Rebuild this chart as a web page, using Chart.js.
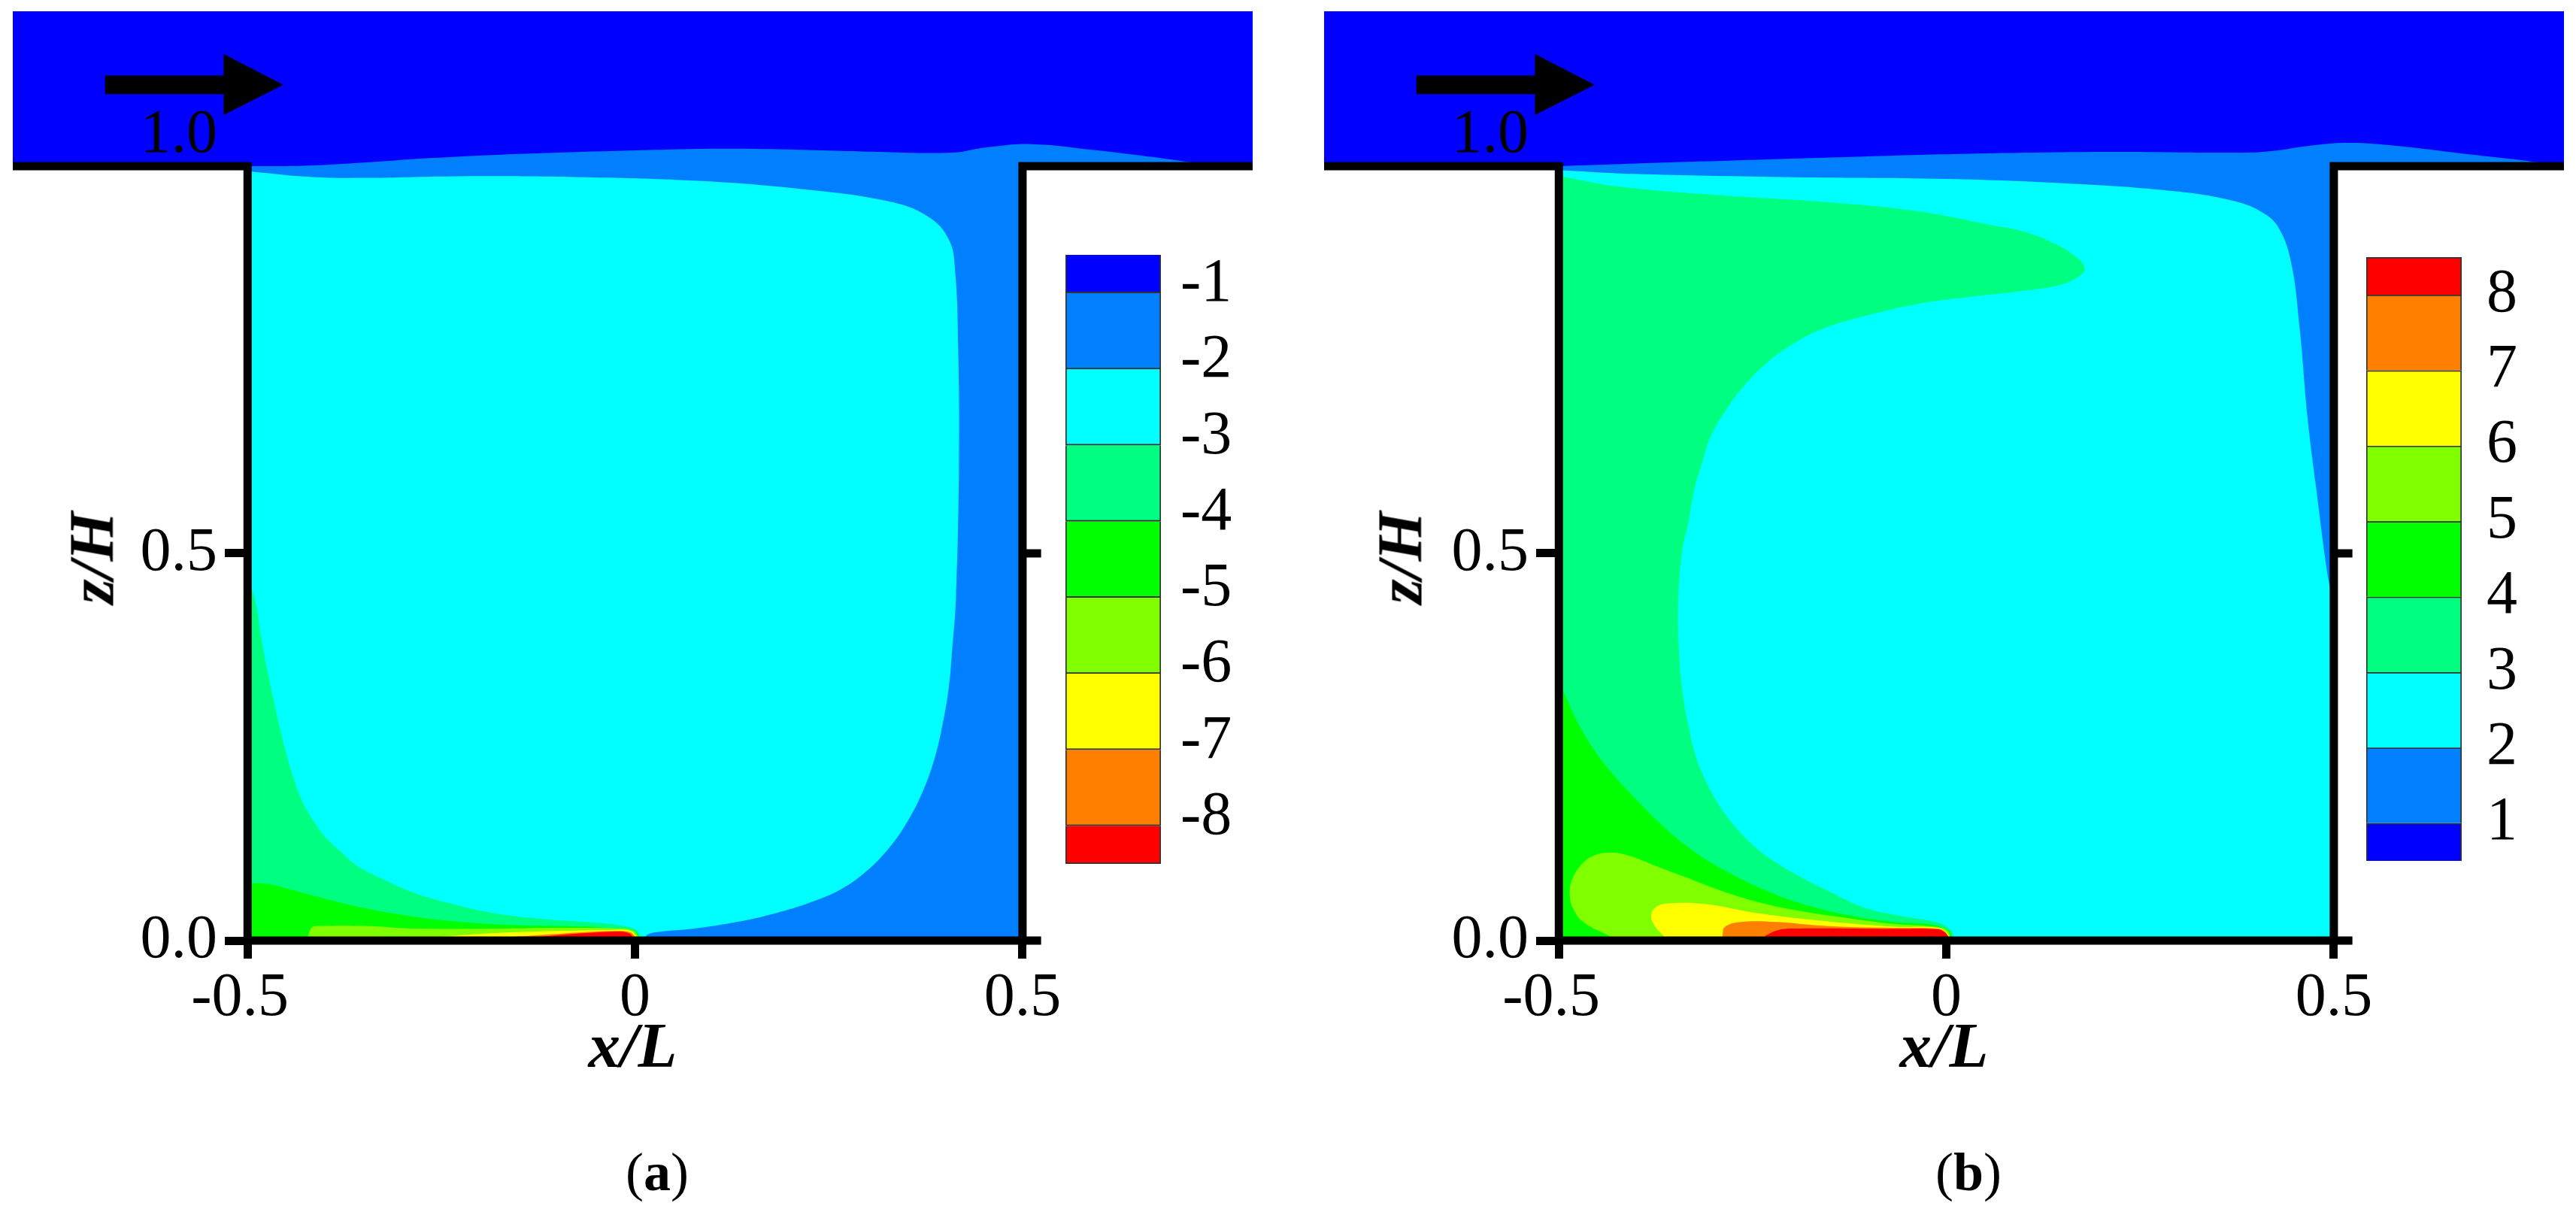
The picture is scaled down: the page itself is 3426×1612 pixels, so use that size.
<!DOCTYPE html>
<html>
<head>
<meta charset="utf-8">
<script src="https://cdn.jsdelivr.net/npm/chart.js@4"></script>
<style>
  body { margin: 0; background: #fff; width: 3426px; height: 1612px; position: relative; overflow: hidden; }
  canvas { position: absolute; }
  .txt { position: absolute; font-family: "Liberation Serif", serif; color: #000; white-space: nowrap; transform: translate(-50%, -50%); line-height: 1; }
  .zh { font-size: 85px; font-weight: bold; font-style: italic; transform: translate(-50%, -50%) rotate(-90deg); }
  .cap { font-size: 72px; }
</style>
</head>
<body>
<canvas id="panelA" width="1713" height="1612" style="left:0;top:0"></canvas>
<canvas id="panelB" width="1686" height="1612" style="left:1740px;top:0"></canvas>
<canvas id="legendA" width="260" height="810" style="left:1417px;top:339px"></canvas>
<canvas id="legendB" width="260" height="803" style="left:3147px;top:342px"></canvas>
<div class="txt zh" style="left:122px;top:742px">z/H</div>
<div class="txt zh" style="left:1862px;top:742px">z/H</div>
<div class="txt cap" style="left:874px;top:1559px">(<b>a</b>)</div>
<div class="txt cap" style="left:2618px;top:1559px">(<b>b</b>)</div>
<script>
// axis ticks
const xTicks = [-0.5, 0, 0.5];
const xTickLabels = ["-0.5 ", "0", "0.5"]; // the space moves -0.5 left of its tick, as in the original
const zTicks = [0, 0.5, 1];
const zTickLabels = ["0.0", "0.5", "1.0"];
const legendALevels = [-1, -2, -3, -4, -5, -6, -7, -8];
const legendBLevels = [8, 7, 6, 5, 4, 3, 2, 1];

// contour colours, lowest band first
const levelColors = ["#0000ff", "#0080ff", "#00ffff", "#00ff80", "#00ff00", "#80ff00", "#ffff00", "#ff8000", "#ff0000"];

// duct above the cavity, walls and the flow arrow ( x/L , z/H )
const ductEdge = [[-0.803, 1], [-0.803, 1.2], [0.797, 1.2], [0.797, 1]];
const wallLine = [[-0.803, 1], [-0.5, 1], [-0.5, 0], [0.5, 0], [0.5, 1], [0.797, 1]];
const rightTickMid = [[0.5, 0.5], [0.524, 0.5]];
const rightTickLow = [[0.5, 0], [0.524, 0]];
const arrowShape = [[-0.684, 1.117], [-0.531, 1.117], [-0.531, 1.145], [-0.454, 1.105], [-0.531, 1.066], [-0.531, 1.093], [-0.684, 1.093]];

// panel (a) contour edges
const a2Edge = [[-0.5, 1], [-0.417, 1.001], [-0.226, 1.0125], [0.028, 1.021], [0.134, 1.0225], [0.293, 1.019], [0.41, 1.0175], [0.452, 1.024], [0.511, 1.0285], [0.59, 1.021], [0.717, 1.005], [0.739, 1]];
const a3Edge = [[-0.5, 0.9935], [-0.417, 0.986], [-0.343, 0.985], [-0.226, 0.987], [-0.078, 0.986], [0.081, 0.981], [0.219, 0.97], [0.325, 0.955], [0.378, 0.935], [0.405, 0.905], [0.413, 0.865], [0.417, 0.765], [0.418, 0.616], [0.414, 0.441], [0.409, 0.373], [0.405, 0.328], [0.397, 0.28], [0.387, 0.237], [0.371, 0.192], [0.351, 0.153], [0.328, 0.12], [0.299, 0.09], [0.267, 0.067], [0.228, 0.05], [0.18, 0.035], [0.131, 0.024], [0.076, 0.0155], [0.034, 0.0117], [0.018, 0.0088], [0.012, 0.004]];
const a4Edge = [[-0.5, 0.47], [-0.49, 0.438], [-0.482, 0.389], [-0.474, 0.347], [-0.466, 0.309], [-0.458, 0.273], [-0.45, 0.241], [-0.44, 0.208], [-0.429, 0.179], [-0.416, 0.156], [-0.4, 0.134], [-0.38, 0.115], [-0.358, 0.096], [-0.325, 0.079], [-0.283, 0.061], [-0.235, 0.047], [-0.186, 0.036], [-0.121, 0.028], [-0.063, 0.024], [-0.022, 0.02], [0.002, 0.0136], [0.007, 0.004]];
const a5Edge = [[-0.5, 0.074], [-0.474, 0.073], [-0.445, 0.066], [-0.396, 0.053], [-0.354, 0.043], [-0.299, 0.033], [-0.235, 0.025], [-0.154, 0.02], [-0.063, 0.018], [-0.034, 0.0155], [0.002, 0.009], [0.005, 0.004]];
const a6Edge = [[-0.422, 0.006], [-0.417, 0.017], [-0.406, 0.019], [-0.348, 0.019], [-0.283, 0.0155], [-0.175, 0.0155], [-0.095, 0.0165], [-0.022, 0.0155], [-0.002, 0.0126], [0.005, 0.004]];
const a7Edge = [[-0.251, 0.005], [-0.195, 0.009], [-0.135, 0.0115], [-0.034, 0.0136], [-0.006, 0.0126], [0.003, 0.004]];
const a8Edge = [[-0.155, 0.005], [-0.095, 0.009], [-0.026, 0.0126], [-0.006, 0.0107], [0.001, 0.004]];
const a9Edge = [[-0.123, 0.005], [-0.075, 0.009], [-0.022, 0.0115], [-0.008, 0.0097], [-0.002, 0.004]];

// panel (b) contour edges
const b2Edge = [[-0.5, 1], [-0.319, 1.006], [-0.107, 1.0125], [0.052, 1.0165], [0.212, 1.0185], [0.381, 1.0175], [0.424, 1.02], [0.466, 1.026], [0.519, 1.03], [0.583, 1.026], [0.668, 1.016], [0.763, 1.005], [0.79, 1]];
const b3Edge = [[-0.5, 0.995], [-0.404, 0.99], [-0.213, 0.986], [0, 0.9835], [0.159, 0.9775], [0.296, 0.9675], [0.371, 0.955], [0.408, 0.94], [0.429, 0.92], [0.445, 0.875], [0.456, 0.79], [0.466, 0.676], [0.477, 0.586], [0.493, 0.466], [0.5, 0.44]];
const b4Edge = [[-0.5, 0.9875], [-0.425, 0.974], [-0.297, 0.9626], [-0.16, 0.954], [-0.043, 0.9426], [0.0623, 0.923], [0.0997, 0.9155], [0.1375, 0.901], [0.1655, 0.8845], [0.1787, 0.868], [0.17, 0.857], [0.1467, 0.8466], [0.0997, 0.839], [0.029, 0.831], [-0.041, 0.8214], [-0.111, 0.805], [-0.158, 0.7906], [-0.191, 0.7748], [-0.2287, 0.7485], [-0.261, 0.7165], [-0.285, 0.684], [-0.304, 0.6515], [-0.3155, 0.616], [-0.325, 0.5835], [-0.334, 0.535], [-0.341, 0.503], [-0.346, 0.438], [-0.345, 0.373], [-0.341, 0.325], [-0.334, 0.283], [-0.323, 0.237], [-0.31, 0.205], [-0.294, 0.176], [-0.275, 0.15], [-0.252, 0.1255], [-0.226, 0.105], [-0.188, 0.082], [-0.149, 0.0625], [-0.107, 0.043], [-0.065, 0.033], [-0.011, 0.023], [0.006, 0.0136], [0.009, 0.005]];
const b5Edge = [[-0.5, 0.33], [-0.494, 0.321], [-0.478, 0.286], [-0.455, 0.247], [-0.433, 0.218], [-0.4, 0.182], [-0.368, 0.15], [-0.329, 0.1175], [-0.285, 0.09], [-0.236, 0.066], [-0.188, 0.048], [-0.123, 0.032], [-0.065, 0.0236], [-0.026, 0.0215], [0.002, 0.0136], [0.007, 0.005]];
const b6Edge = [[-0.435, 0.006], [-0.468, 0.0236], [-0.481, 0.04], [-0.486, 0.059], [-0.483, 0.0786], [-0.471, 0.098], [-0.455, 0.1097], [-0.433, 0.1136], [-0.41, 0.1097], [-0.375, 0.0964], [-0.333, 0.0806], [-0.285, 0.0624], [-0.236, 0.048], [-0.188, 0.038], [-0.123, 0.0285], [-0.065, 0.0214], [-0.011, 0.0175], [0.002, 0.0126], [0.005, 0.005]];
const b7Edge = [[-0.365, 0.006], [-0.376, 0.0187], [-0.381, 0.032], [-0.375, 0.043], [-0.358, 0.048], [-0.31, 0.047], [-0.252, 0.0367], [-0.188, 0.0285], [-0.123, 0.0222], [-0.065, 0.0178], [-0.011, 0.0165], [0, 0.0107], [0.004, 0.005]];
const b8Edge = [[-0.289, 0.006], [-0.286, 0.0175], [-0.265, 0.024], [-0.22, 0.024], [-0.171, 0.02], [-0.123, 0.0175], [-0.065, 0.0165], [-0.011, 0.0155], [-0.002, 0.0116], [0.002, 0.005]];
const b9Edge = [[-0.234, 0.006], [-0.22, 0.0126], [-0.2, 0.0155], [-0.065, 0.015], [-0.011, 0.0146], [-0.002, 0.0107], [0.003, 0.005]];

const serif = "'Liberation Serif', serif";

// a repeated point keeps the spline from rounding a corner
const corner = (p) => [p, p];
const toPoints = (list) => list.map((p) => ({ x: p[0], y: p[1] }));

// edge closed along the floor z/H = 0
function floorShape(edge) {
  const first = edge[0], last = edge[edge.length - 1];
  return toPoints([...corner(first), ...edge.slice(1, -1), ...corner(last), ...corner([last[0], 0]), ...corner([first[0], 0])]);
}
// edge closed around the whole cavity
function cavityShape(edge) {
  const first = edge[0], last = edge[edge.length - 1];
  return toPoints([...corner(first), ...edge.slice(1, -1), ...corner(last), ...corner([0.5, 1]), ...corner([0.5, 0]), ...corner([-0.5, 0])]);
}

function fillSet(points, color, order, tension) {
  return { data: points, backgroundColor: color, borderWidth: 0, pointRadius: 0, fill: "shape", tension: tension, order: order };
}
function strokeSet(list, order) {
  return { data: toPoints(list), borderColor: "#000", borderWidth: 11, pointRadius: 0, fill: false, tension: 0, clip: false, borderJoinStyle: "miter", borderCapStyle: "butt", order: order };
}
// axis labels must not pull the chart area away from the canvas edges
function fitZAxis(s) {
  s.width = 0;
  s.paddingTop = 0;
  s.paddingBottom = 0;
}

function drawPanel(id, edges, padLeft, padRight) {
  const datasets = [
    fillSet(toPoints(ductEdge), levelColors[0], 20, 0),
    fillSet(cavityShape(edges[0]), levelColors[1], 19, 0.4),
  ];
  edges.slice(1).forEach((edge, i) => {
    datasets.push(fillSet(floorShape(edge), levelColors[i + 2], 18 - i, 0.4));
  });
  datasets.push(fillSet(toPoints(arrowShape), "#000", 3, 0));
  datasets.push(strokeSet(rightTickMid, 2));
  datasets.push(strokeSet(rightTickLow, 2));
  datasets.push(strokeSet(wallLine, 1));

  new Chart(document.getElementById(id), {
    type: "line",
    data: { datasets: datasets },
    options: {
      responsive: false,
      animation: false,
      devicePixelRatio: 1,
      layout: { padding: { left: padLeft, right: padRight, top: 15, bottom: 0 } },
      plugins: { legend: { display: false }, tooltip: { enabled: false } },
      scales: {
        x: {
          type: "linear",
          position: "bottom",
          min: -0.803,
          max: 0.797,
          afterBuildTicks: (s) => { s.ticks = xTicks.map((v) => ({ value: v })); },
          afterFit: (s) => { s.height = 361; s.paddingLeft = 0; s.paddingRight = 0; },
          border: { display: false },
          grid: { drawOnChartArea: false, tickLength: 24, tickWidth: 11, tickColor: "#000" },
          ticks: { color: "#000", font: { family: serif, size: 82 }, padding: 4, maxRotation: 0, autoSkip: false, callback: (v, i) => xTickLabels[i] },
          title: { display: true, text: "x/L", color: "#000", font: { family: serif, size: 85, weight: "bold", style: "italic" }, padding: { top: 0, bottom: 164 } },
        },
        y: {
          type: "linear",
          position: { x: -0.5 },
          min: 0,
          max: 1.2,
          afterBuildTicks: (s) => { s.ticks = zTicks.map((v) => ({ value: v })); },
          afterFit: fitZAxis,
          border: { display: false },
          grid: { drawOnChartArea: false, tickLength: 30, tickWidth: 11, tickColor: "#000" },
          ticks: { display: false },
        },
        // tick labels stand clear of the wall, so they get their own axis
        zLabels: {
          axis: "y",
          type: "linear",
          position: { x: -0.539 },
          min: 0,
          max: 1.2,
          afterBuildTicks: (s) => {
            // the 1.0 label sits on top of the duct floor, not beside it
            s.ticks = zTicks.map((v) => ({ value: v === 1 ? 1.039 : v }));
          },
          afterFit: fitZAxis,
          border: { display: false },
          grid: { display: false },
          ticks: { z: 2, color: "#000", font: { family: serif, size: 82 }, autoSkip: false, callback: (v, i) => zTickLabels[i] },
        },
      },
    },
  });
}

function drawLegend(id, levels, colors, gap, labelShift) {
  const first = levels[0], last = levels[levels.length - 1];
  const step = Math.sign(first - last) * 0.5;
  const edges = [first + step, ...levels, last - step];
  const datasets = colors.map((color, i) => ({
    data: [[edges[i + 1], edges[i]]],
    backgroundColor: color,
    borderColor: "#333",
    borderWidth: 2,
    grouped: false,
    barPercentage: 1,
    categoryPercentage: 1,
  }));
  const lo = Math.min(first, last) - 0.5;
  const hi = Math.max(first, last) + 0.5;
  new Chart(document.getElementById(id), {
    type: "bar",
    data: { labels: [""], datasets: datasets },
    options: {
      responsive: false,
      animation: false,
      devicePixelRatio: 1,
      plugins: { legend: { display: false }, tooltip: { enabled: false } },
      scales: {
        x: { display: false },
        y: { display: false, min: lo, max: hi },
        levels: {
          axis: "y",
          type: "linear",
          position: "right",
          min: lo - labelShift,
          max: hi - labelShift,
          afterBuildTicks: (s) => { s.ticks = levels.map((v) => ({ value: v })); },
          afterFit: (s) => { s.width = 133; s.paddingTop = 0; s.paddingBottom = 0; },
          border: { display: false },
          grid: { display: false },
          ticks: { color: "#000", font: { family: serif, size: 82 }, padding: gap, autoSkip: false },
        },
      },
    },
  });
}

drawPanel("panelA", [a2Edge, a3Edge, a4Edge, a5Edge, a6Edge, a7Edge, a8Edge, a9Edge], 17, 47);
drawPanel("panelB", [b2Edge, b3Edge, b4Edge, b5Edge, b6Edge, b7Edge, b8Edge, b9Edge], 21, 16);
drawLegend("legendA", legendALevels, levelColors, 18, 0.11);
drawLegend("legendB", legendBLevels, levelColors.slice().reverse(), 25, 0);
</script>
</body>
</html>
